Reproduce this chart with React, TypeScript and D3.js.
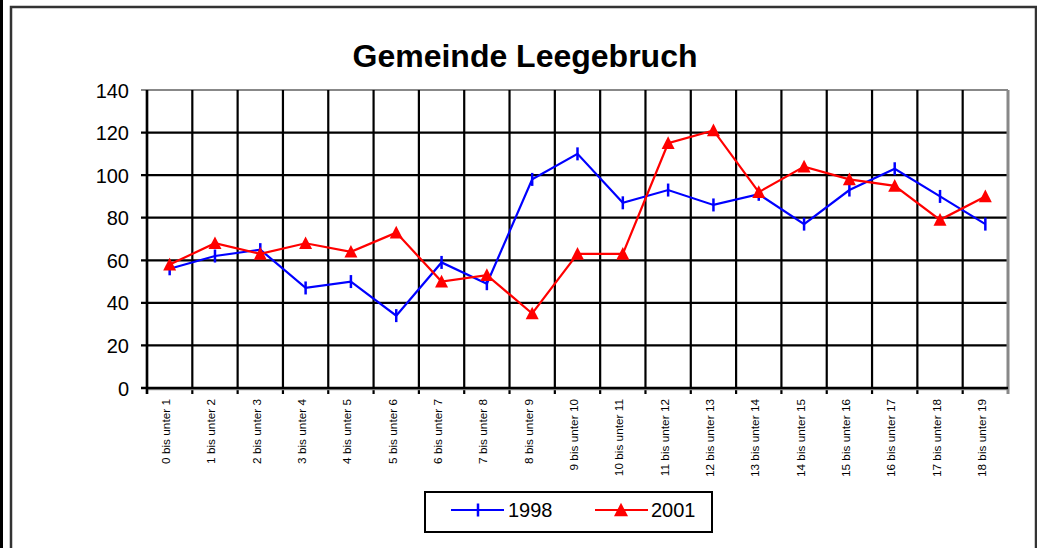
import React from "react";
import * as d3 from "d3";

const categories = [
  "0 bis unter 1", "1 bis unter 2", "2 bis unter 3", "3 bis unter 4", "4 bis unter 5",
  "5 bis unter 6", "6 bis unter 7", "7 bis unter 8", "8 bis unter 9", "9 bis unter 10",
  "10 bis unter 11", "11 bis unter 12", "12 bis unter 13", "13 bis unter 14", "14 bis unter 15",
  "15 bis unter 16", "16 bis unter 17", "17 bis unter 18", "18 bis unter 19",
];
const values1998 = [56, 62, 65, 47, 50, 34, 59, 49, 98, 110, 87, 93, 86, 91, 77, 93, 103, 90, 77];
const values2001 = [58, 68, 63, 68, 64, 73, 50, 53, 35, 63, 63, 115, 121, 92, 104, 98, 95, 79, 90];
const yTicks = [0, 20, 40, 60, 80, 100, 120, 140];
const seriesNames = ["1998", "2001"];
const title = "Gemeinde Leegebruch";

const W = 1037;
const H = 548;
const plot = { left: 147, right: 1008, top: 90, bottom: 388 };
const font = "'Liberation Sans', Arial, sans-serif";

export default function App() {
  const x = d3.scaleBand<string>().domain(categories).range([plot.left, plot.right]).padding(0);
  const y = d3.scaleLinear().domain([0, 140]).range([plot.bottom, plot.top]);
  const cx = (c: string) => (x(c) as number) + x.bandwidth() / 2;

  const line = d3
    .line<number>()
    .x((_, i) => cx(categories[i]))
    .y((v) => y(v));

  const tri = (px: number, py: number, s = 13) => {
    const h = s * 0.9;
    return `M${px},${py - h / 2 - 1} L${px + s / 2},${py + h / 2} L${px - s / 2},${py + h / 2} Z`;
  };

  const boundaries = categories.map((c) => x(c) as number).concat([plot.right]);

  return (
    <svg
      width={W}
      height={H}
      style={{ position: "absolute", left: 0, top: 0, background: "#fff" }}
      fontFamily={font}
    >
      {/* left edge artifact */}
      <rect x={0} y={0} width={3} height={H} fill="#000" />
      {/* outer chart frame */}
      <path d={`M11,${H} L11,7 L1036,7 L1036,${H}`} fill="none" stroke="#333" strokeWidth={2.5} />

      {/* title */}
      <text x={525} y={67} textAnchor="middle" fontSize={32} fontWeight="bold" fill="#000">
        {title}
      </text>

      {/* horizontal gridlines */}
      {yTicks.map((t) => (
        <line
          key={"h" + t}
          x1={plot.left - 6}
          x2={plot.right}
          y1={y(t)}
          y2={y(t)}
          stroke={t === 140 ? "#888" : "#000"}
          strokeWidth={2.2}
        />
      ))}
      {/* vertical gridlines */}
      {boundaries.map((b, i) => (
        <line
          key={"v" + i}
          x1={b}
          x2={b}
          y1={plot.top}
          y2={plot.bottom + 6}
          stroke={i === boundaries.length - 1 ? "#888" : "#000"}
          strokeWidth={i === boundaries.length - 1 ? 3 : 2.2}
        />
      ))}
      {/* axes */}
      <line x1={plot.left} x2={plot.right} y1={plot.bottom + 1.5} y2={plot.bottom + 1.5} stroke="#999" strokeWidth={1.5} />
      <line x1={plot.left - 6} x2={plot.right} y1={plot.bottom} y2={plot.bottom} stroke="#000" strokeWidth={2.5} />
      <line x1={plot.left} x2={plot.left} y1={plot.top} y2={plot.bottom + 6} stroke="#000" strokeWidth={2.5} />

      {/* y tick labels */}
      {yTicks.map((t) => (
        <text key={"yl" + t} x={129} y={y(t) + 7.5} textAnchor="end" fontSize={20} fill="#000">
          {t}
        </text>
      ))}

      {/* x tick labels */}
      {categories.map((c) => (
        <text
          key={"xl" + c}
          transform={`translate(${cx(c) + 0.5},399) rotate(-90)`}
          textAnchor="end"
          fontSize={11.8}
          fill="#000"
        >
          {c}
        </text>
      ))}

      {/* series 1998 */}
      <path d={line(values1998) as string} fill="none" stroke="#0000ff" strokeWidth={2.2} />
      {values1998.map((v, i) => (
        <line
          key={"m98" + i}
          x1={cx(categories[i])}
          x2={cx(categories[i])}
          y1={y(v) - 6.5}
          y2={y(v) + 6.5}
          stroke="#0000ff"
          strokeWidth={2.5}
        />
      ))}

      {/* series 2001 */}
      <path d={line(values2001) as string} fill="none" stroke="#ff0000" strokeWidth={2.2} />
      {values2001.map((v, i) => (
        <path key={"m01" + i} d={tri(cx(categories[i]), y(v))} fill="#ff0000" />
      ))}

      {/* legend */}
      <rect x={425} y={492} width={287} height={40} fill="#fff" stroke="#000" strokeWidth={2} />
      <line x1={451} x2={504} y1={510} y2={510} stroke="#0000ff" strokeWidth={2.2} />
      <line x1={478} x2={478} y1={503.5} y2={516.5} stroke="#0000ff" strokeWidth={2.5} />
      <text x={508} y={517} fontSize={20} fill="#000">{seriesNames[0]}</text>
      <line x1={595} x2={648} y1={510} y2={510} stroke="#ff0000" strokeWidth={2.2} />
      <path d={tri(621, 510, 14)} fill="#ff0000" />
      <text x={651} y={517} fontSize={20} fill="#000">{seriesNames[1]}</text>
    </svg>
  );
}
